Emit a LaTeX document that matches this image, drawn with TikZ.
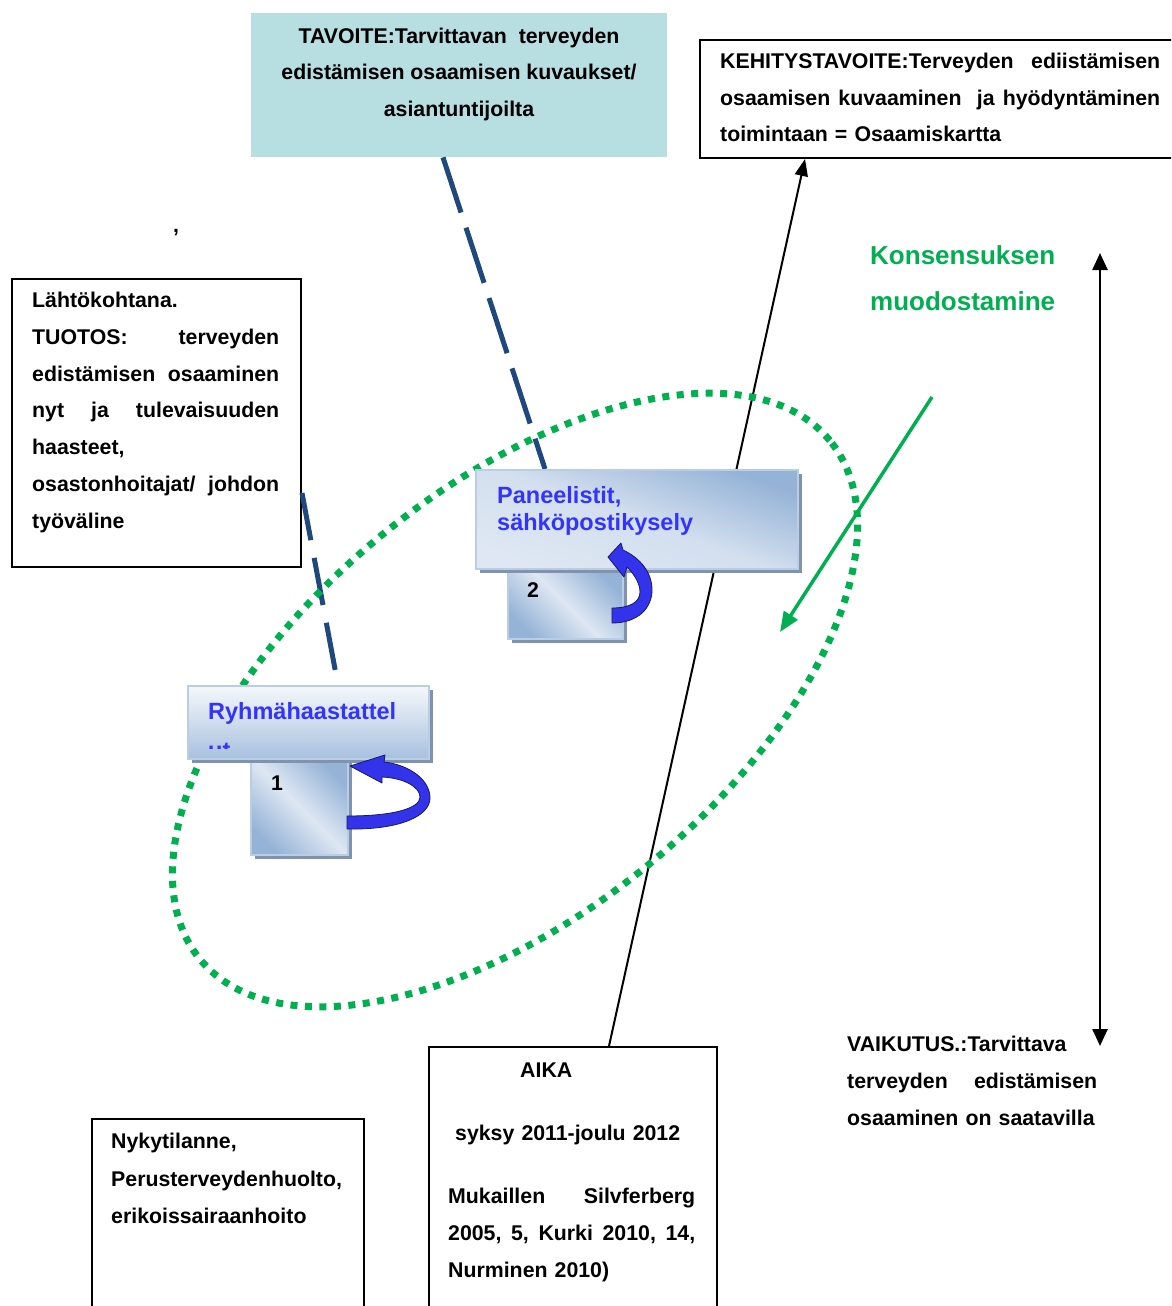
\documentclass[tikz,border=0pt]{standalone}
\usepackage{fontspec}
\setmainfont{Liberation Sans}
\usetikzlibrary{arrows.meta,shadows}
\definecolor{tavfill}{RGB}{183,222,225}
\definecolor{navy}{RGB}{31,73,125}
\definecolor{grn}{RGB}{0,176,80}
\definecolor{bluetxt}{RGB}{51,51,255}
\definecolor{bxdark}{RGB}{149,179,215}
\definecolor{bxlight}{RGB}{222,231,243}
\definecolor{bxborder}{RGB}{185,205,229}
\definecolor{bxshadow}{RGB}{128,146,172}
\definecolor{arrfill}{RGB}{51,51,235}
\definecolor{arrline}{RGB}{25,25,100}
\begin{document}
\begin{tikzpicture}[x=1pt,y=-1pt,
  tx/.style={font=\bfseries\fontsize{21.3}{36.8}\selectfont, inner sep=0pt, align=left, anchor=base west},
  frame/.style={draw=black, line width=2pt, fill=white, anchor=north west, inner sep=0pt},
  gbox/.style={draw=bxborder, line width=2pt, anchor=north west, inner sep=0pt,
     drop shadow={shadow xshift=4pt, shadow yshift=-4pt, fill=bxshadow, opacity=1}},
  navydash/.style={draw=navy, line width=5pt},
  curvarr/.style={fill=arrfill, draw=arrline, line width=0.8pt, line join=round},
  bluet/.style={tx, text=bluetxt, font=\bfseries\fontsize{23.5}{27}\selectfont}
]
\clip (0,0) rectangle (1171,1306);
\fill[white] (0,0) rectangle (1171,1306);

% boxes (plain)
\node[frame, minimum width=289pt, minimum height=288pt] (lbox) at (11,278) {};
\node[frame, minimum width=480pt, minimum height=118pt] (keh) at (699,39) {};
\node[frame, minimum width=288pt, minimum height=280pt] (aika) at (428,1046) {};
\node[frame, minimum width=272pt, minimum height=200pt] (nyky) at (91,1118) {};
\node[fill=tavfill, anchor=north west, inner sep=0pt, minimum width=416pt, minimum height=144pt] (tav) at (251,13) {};

% connectors behind
\draw[navydash, dash pattern=on 58pt off 16pt] ([xshift=192pt]tav.south west) -- (545,469) coordinate (tavend);
\draw[navydash, dash pattern=on 48pt off 18pt, shorten >=15pt] ([yshift=-215pt]lbox.north east) -- (338,685) coordinate (ryhend);
\draw[line width=2pt, -{Triangle[length=17pt,width=13pt]}] ([xshift=181pt]aika.north west) -- ([xshift=106pt]keh.south west);

% dotted ellipse
\draw[grn, line width=7pt, dash pattern=on 7pt off 7.5pt] (515,700) ellipse [x radius=408pt, y radius=212pt, rotate=39.5];

% gradient boxes
\node[gbox, minimum width=115pt, minimum height=71pt, shading=axis, top color=bxdark, bottom color=bxdark, middle color=bxlight, shading angle=-45] (pansmall) at (507,567) {};
\node[gbox, minimum width=322pt, minimum height=99pt, shading=axis, top color=bxdark, bottom color=bxlight, middle color=bxlight!85!bxdark, shading angle=-20] (panbig) at (475,469) {};
\node[gbox, minimum width=97pt, minimum height=96pt, shading=axis, top color=bxdark, bottom color=bxdark, middle color=bxlight, shading angle=-45] (ryhsmall) at (250,758) {};
\node[gbox, minimum width=241pt, minimum height=73pt, shading=axis, top color=white!70!bxlight, bottom color=bxdark!75!bxlight] (ryhbig) at (187,685) {};

% curved arrows
\filldraw[curvarr] (612,623) .. controls (638,623) and (652,608) .. (652,590) .. controls (652,572) and (640,558) .. (623,550) -- (621,543) -- (608,557) -- (624,577) -- (627,567) .. controls (635,575) and (640,584) .. (640,592) .. controls (640,602) and (630,608) .. (612,608) -- cycle;
\filldraw[curvarr] (347,829) .. controls (400,830) and (430,816) .. (430,798) .. controls (430,780) and (410,765) .. (384,762) -- (385,755) -- (350,766) -- (382,783) -- (382,777) .. controls (404,778) and (420,787) .. (420,797) .. controls (420,808) and (395,816) .. (347,816) -- cycle;

% green arrow
\coordinate (g1) at (932,397);
\coordinate (g2) at (780,632);
\draw[grn, line width=3.5pt, -{Triangle[length=20pt,width=16pt]}] (g1) -- (g2);

% vertical double arrow
\coordinate (v1) at (1100,253);
\coordinate (v2) at (1100,1046);
\draw[line width=2.5pt, {Triangle[length=17pt,width=15pt]}-{Triangle[length=17pt,width=15pt]}] (v1) -- (v2);

% texts
\node[tx, align=center, anchor=base, font=\bfseries\fontsize{21.3}{36.5}\selectfont] (tavtext) at (459,116.5)
 {TAVOITE:Tarvittavan\ \ terveyden\\edistämisen osaamisen kuvaukset/\\asiantuntijoilta};
\node[tx, text width=440pt, font=\bfseries\fontsize{21.3}{36.5}\selectfont] (kehtext) at (720,68.5)
 {KEHITYSTAVOITE:Terveyden\hfill ediistämisen\\osaamisen\hfill kuvaaminen\hfill\ ja\hfill hyödyntäminen\\toimintaan = Osaamiskartta};
\node[tx, text width=247pt] (ltext) at (32,307.5)
 {Lähtökohtana.\\TUOTOS:\hfill terveyden\\edistämisen\hfill osaaminen\\nyt\hfill ja\hfill tulevaisuuden\\haasteet,\\osastonhoitajat/\hfill johdon\\työväline};
\node[tx, text=grn, font=\bfseries\fontsize{26}{46}\selectfont] (kons) at (870,310) {Konsensuksen\\muodostamine};
\node[tx, text width=250pt, font=\bfseries\fontsize{21.3}{37}\selectfont] (vaik) at (847,1051.5)
 {VAIKUTUS.:Tarvittava\\terveyden\hfill edistämisen\\osaaminen on saatavilla};
\node[tx, font=\bfseries\fontsize{21.3}{37.5}\selectfont] (nykytext) at (111,1223.5)
 {Nykytilanne,\\Perusterveydenhuolto,\\erikoissairaanhoito};
\node[tx, text width=247pt, font=\bfseries\fontsize{21.3}{37}\selectfont] (aikatext) at (448,1077.5)
 {\hspace*{72pt}AIKA\\[26pt]\hspace*{7pt}syksy 2011-joulu 2012\\[26pt]Mukaillen\hfill Silvferberg\\2005,\hfill 5,\hfill Kurki\hfill 2010,\hfill 14,\\Nurminen 2010)};
\node[tx] (comma) at (173,232) {,};
\node[bluet] (pantext) at (497,530) {Paneelistit,\\sähköpostikysely};
\node[bluet] (ryhtext) at (208,719.5) {Ryhmähaastattel};
\begin{scope}
\clip (187,685) rectangle (428,748.5);
\node[bluet] (ryhut) at (208,758) {ut};
\end{scope}
\node[tx] (num2) at (527,597.5) {2};
\node[tx] (num1) at (271,790.6) {1};
\end{tikzpicture}
\end{document}
